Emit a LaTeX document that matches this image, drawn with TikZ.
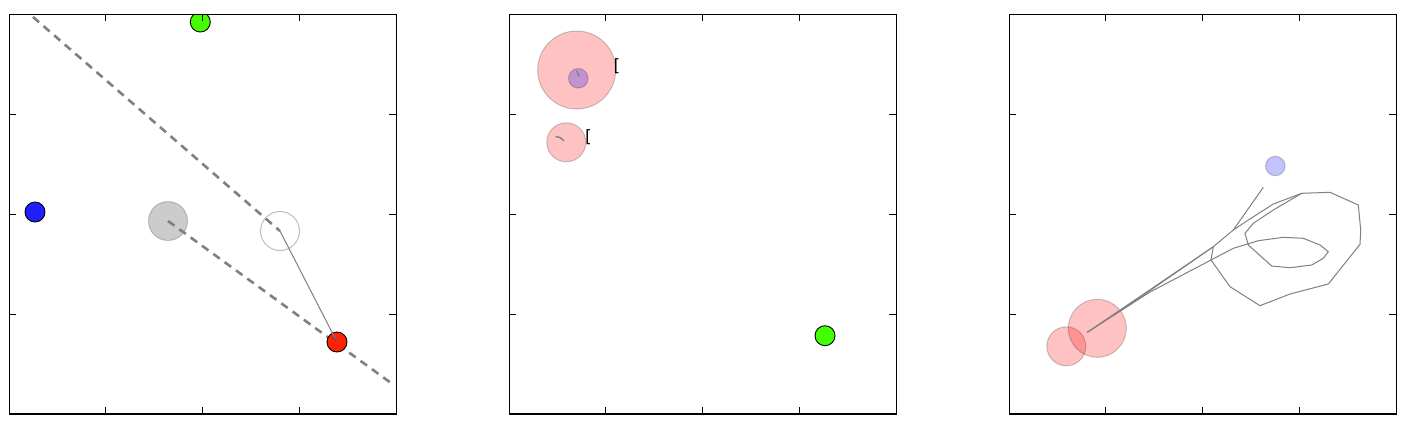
\documentclass[tikz,border=0pt]{standalone}
\usepackage{fontspec}
\newfontfamily\bracketfont{DejaVu Sans}
\begin{document}
\begin{tikzpicture}[x=1bp,y=-1bp,
  frame/.style={draw=black,line width=1.4bp},
  tickmark/.style={draw=black,line width=0.8bp},
  ball/.style={circle,draw=black,line width=0.9bp,inner sep=0pt,minimum size=20bp},
  ghost/.style={circle,inner sep=0pt,minimum size=39bp},
  redghost/.style={circle,inner sep=0pt,fill=red,fill opacity=0.24,draw=black,draw opacity=0.2,line width=1bp},
  blueghost/.style={circle,inner sep=0pt,minimum size=19.5bp,fill=blue,fill opacity=0.24,draw=black,draw opacity=0.2,line width=1bp},
  guide/.style={draw=black!50,line width=2.6bp,dash pattern=on 8bp off 6bp},
  trail/.style={draw=black!50,line width=1bp},
  bracket/.style={font=\bracketfont\fontsize{17}{17}\selectfont,inner sep=0pt}
]
\useasboundingbox (0,0) rectangle (1416,428);
\fill[white] (0,0) rectangle (1416,428);

% ---------------- Panel 1 ----------------
\begin{scope}
\clip (9.3,14.3) rectangle (396,414);
\node[ghost,fill=black,fill opacity=0.2,draw=black,draw opacity=0.2,line width=1bp] (g1) at (168,221) {};
\node[ghost,draw=black,draw opacity=0.25,line width=1bp] (o1) at (280,231) {};
\coordinate (d1s) at (33,17);
\coordinate (d2e) at (391,383);
\draw[guide] (d1s) -- (o1.center);
\draw[guide] (g1.center) -- (d2e);
\node[ball,fill={rgb,255:red,255;green,34;blue,0}] (r1) at (337,342) {};
\draw[trail] (o1.center) -- (r1.center);
\coordinate (r1t) at (333,337);
\draw[trail,draw=black!70] (r1t) -- (r1.center);
\node[ball,fill={rgb,255:red,68;green,255;blue,0}] (gr1) at (200.3,22) {};
\node[ball,fill={rgb,255:red,32;green,32;blue,255}] (b1) at (35,212) {};
\end{scope}

% ---------------- Panel 2 ----------------
\begin{scope}
\clip (509.3,14.3) rectangle (896,414);
\node[redghost,minimum size=78bp] (p2a) at (576.7,70) {};
\node[blueghost] (p2b) at (578.3,78.3) {};
\coordinate (t2a) at (576.7,70.5);
\coordinate (t2b) at (579,76.5);
\draw[trail,line width=1.4bp] (t2a) -- (t2b);
\node[redghost,minimum size=39bp] (p2c) at (566.3,142.3) {};
\coordinate (t2c) at (555.5,136.5);
\coordinate (t2d) at (560,137.5);
\coordinate (t2e) at (564,140.8);
\draw[trail,line width=1.4bp] (t2c) -- (t2d) -- (t2e);
\node[bracket] (l2a) at (617,66) {[};
\node[bracket] (l2b) at (588.5,137) {[};
\node[ball,fill={rgb,255:red,68;green,255;blue,0}] (gr2) at (825,335.7) {};
\end{scope}

% ---------------- Panel 3 ----------------
\begin{scope}
\clip (1009.3,14.3) rectangle (1396.5,414);
\node[redghost,minimum size=39bp] (p3a) at (1066.3,346.3) {};
\node[redghost,minimum size=58bp] (p3b) at (1097.3,328.3) {};
\node[blueghost] (p3c) at (1275.3,166) {};
\coordinate (s3) at (1087.3,332.3);
\coordinate (e3) at (1263.3,187.3);
\draw[trail] (s3) -- (1213.3,246.7) -- (1233.3,230) -- (e3);
\draw[trail] (s3) -- (1150,292) -- (1211,260) -- (1233.3,248.3) -- (1258.3,240.7)
  -- (1283.3,237.3) -- (1303.3,238.3) -- (1320,245) -- (1328.3,251.7)
  -- (1323.3,258.3) -- (1311.7,265) -- (1290,267.7) -- (1271.7,266)
  -- (1248.3,245) -- (1245,233.3) -- (1253.3,223.3) -- (1273.3,210)
  -- (1301.7,193.3) -- (1330,192.3) -- (1358.3,205) -- (1360.7,230)
  -- (1360,244.3) -- (1328.3,284) -- (1290,294) -- (1260,305.7)
  -- (1230,286.7) -- (1211,260) -- (1213.3,246.7);
\draw[trail] (1233.3,230) -- (1248.3,220) -- (1273.3,204) -- (1301.7,193.3);
\draw[trail] (s3) -- (1145,294) -- (1213.3,246.7);
\end{scope}

% ---------------- Frames and ticks ----------------
\foreach \xo in {0,500,1000} {
  \draw[frame] (9.3+\xo,14.3) rectangle (396.3+\xo,414);
  \foreach \tx in {105.3,202.3,299.3} {
    \draw[tickmark] (\tx+\xo,14.3) -- (\tx+\xo,21.3);
    \draw[tickmark] (\tx+\xo,414) -- (\tx+\xo,407);
  }
  \foreach \ty in {114,214,314} {
    \draw[tickmark] (9.3+\xo,\ty) -- (16.3+\xo,\ty);
    \draw[tickmark] (396.3+\xo,\ty) -- (389.3+\xo,\ty);
  }
}
\end{tikzpicture}
\end{document}
